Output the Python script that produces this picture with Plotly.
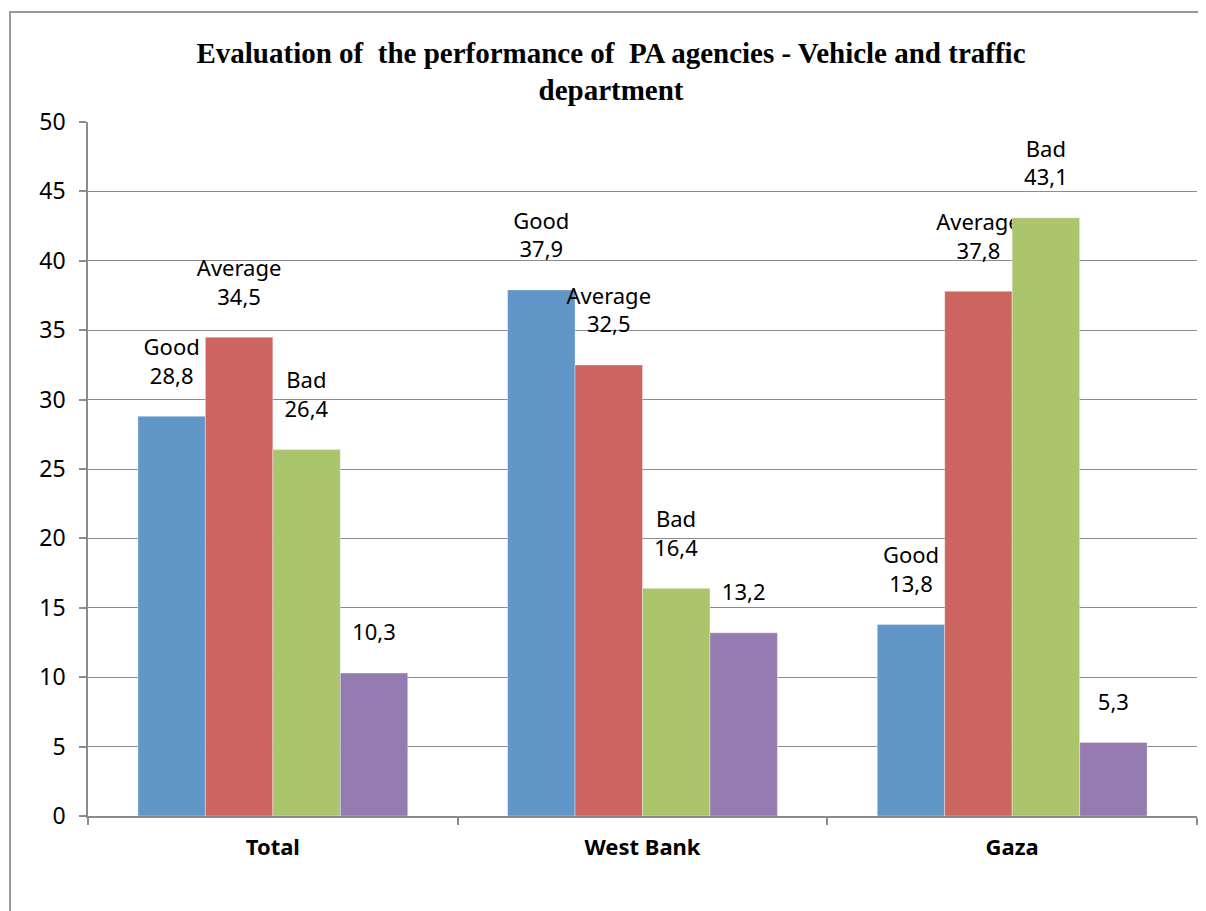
import plotly.graph_objects as go

categories = ["Total", "West Bank", "Gaza"]
series_names = ["Good", "Average", "Bad", "Don't know"]
good = [28.8, 37.9, 13.8]
average = [34.5, 32.5, 37.8]
bad = [26.4, 16.4, 43.1]
dont_know = [10.3, 13.2, 5.3]
colors = ["#6096C8", "#CD6661", "#ABC56D", "#947BB0"]
show_name = [True, True, True, False]

values = [good, average, bad, dont_know]

FONT = "Noto Sans"
fig = go.Figure()
spacer = "<br><span style='font-size:2px'> </span>"
for name, vals, col, sn in zip(series_names, values, colors, show_name):
    tmpl = (name + "<br>%{y:.1f}" if sn else "%{y:.1f}") + spacer
    fig.add_trace(go.Bar(
        x=categories, y=vals, name=name,
        marker=dict(color=col, line=dict(width=0.6, color="rgba(255,255,255,0.6)")),
        texttemplate=tmpl, textposition="outside", constraintext="none",
        cliponaxis=False,
        textfont=dict(family=FONT, size=22, color="#000000"),
    ))

fig.update_layout(
    width=1206, height=911,
    barmode="group", bargap=0.27, bargroupgap=0,
    separators=",.",
    showlegend=False,
    plot_bgcolor="white", paper_bgcolor="white",
    margin=dict(l=80, r=17, t=114, b=103),
    title=dict(
        text="<b>Evaluation of  the performance of  PA agencies - Vehicle and traffic<br>department</b>",
        x=0.5, xanchor="center", xref="container", y=0.94, yanchor="top",
        font=dict(family="Liberation Serif", size=29, color="#000000"),
    ),
    xaxis=dict(
        showline=True, linecolor="#8C8C8C", linewidth=1.5,
        ticks="outside", tickson="boundaries", ticklen=7, tickcolor="#8C8C8C", tickwidth=1.5,
        tickfont=dict(family=FONT, size=22, color="#000000"),
        ticklabelstandoff=11,
    ),
    yaxis=dict(
        range=[0, 50], dtick=5, tick0=0,
        showline=True, linecolor="#8C8C8C", linewidth=1.5,
        ticks="outside", ticklen=7, tickcolor="#8C8C8C", tickwidth=1.5,
        showgrid=True, gridcolor="#8C8C8C", gridwidth=1,
        tickfont=dict(family=FONT, size=23, color="#000000"),
        zeroline=False, ticklabelstandoff=9,
    ),
    shapes=[dict(type="rect", xref="paper", yref="paper",
                 x0=-0.0703, x1=1.2, y0=-0.5, y1=1.1585,
                 line=dict(color="#999999", width=2), layer="below")],
)
fig.update_xaxes(ticktext=["<b>%s</b>" % c for c in categories], tickvals=categories)

fig.write_html("out.html")
